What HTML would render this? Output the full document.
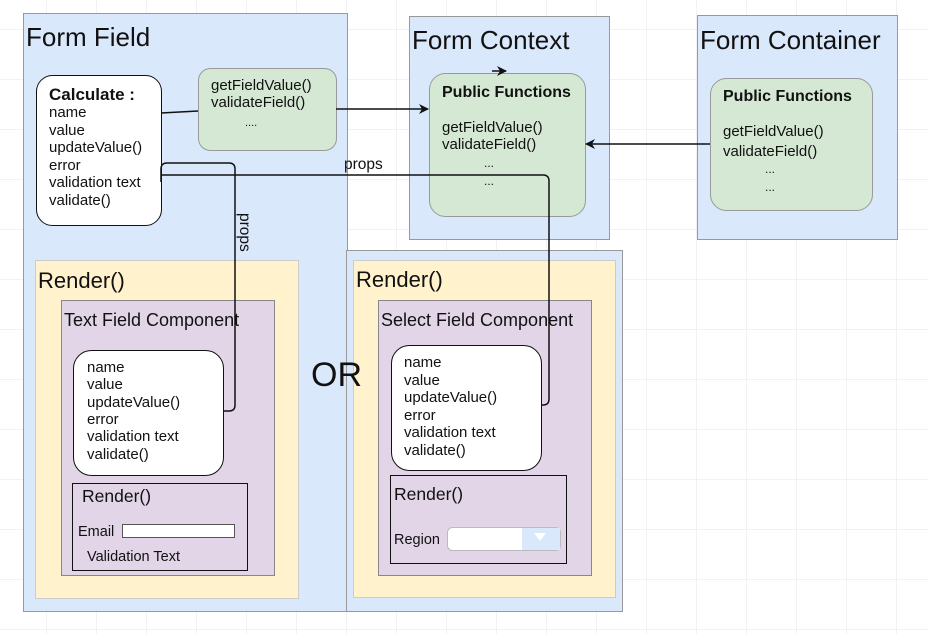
<!DOCTYPE html>
<html><head><meta charset="utf-8"><style>
html,body{margin:0;padding:0;background:#fff}
svg{display:block}
text{font-family:"Liberation Sans",Arial,sans-serif;fill:#111}
</style></head><body>
<svg width="928" height="634" viewBox="0 0 928 634" xmlns="http://www.w3.org/2000/svg">
<defs>
<pattern id="g" width="50" height="50" patternUnits="userSpaceOnUse" x="-3" y="-20">
<path d="M50 0V50M0 50H50" stroke="#e4e4ea" stroke-width="1" fill="none"/>
</pattern>
<marker id="a" markerWidth="10" markerHeight="10" refX="9" refY="5" orient="auto" markerUnits="userSpaceOnUse"><path d="M0 0L10 5L0 10L3 5Z" fill="#111"/></marker>
</defs>
<rect width="928" height="634" fill="url(#g)"/>
<rect x="23.5" y="13.5" width="324" height="598" fill="#dae8fc" stroke="#999"/>
<rect x="346.5" y="250.5" width="276" height="361" fill="#dae8fc" stroke="#999"/>
<text x="26" y="46" font-size="26">Form Field</text>
<rect x="409.5" y="16.5" width="200" height="223" fill="#dae8fc" stroke="#999"/>
<text x="412" y="49" font-size="26">Form Context</text>
<rect x="429.5" y="73.5" width="156" height="143" rx="16" fill="#d5e8d4" stroke="#999"/>
<text x="442" y="97" font-size="16" font-weight="bold">Public Functions</text>
<text x="442" y="132" font-size="15">getFieldValue()</text>
<text x="442" y="149" font-size="15">validateField()</text>
<text x="484" y="167" font-size="12">...</text>
<text x="484" y="185" font-size="12">...</text>
<rect x="697.5" y="15.5" width="200" height="224" fill="#dae8fc" stroke="#999"/>
<text x="700" y="49" font-size="26">Form Container</text>
<rect x="710.5" y="78.5" width="162" height="132" rx="16" fill="#d5e8d4" stroke="#999"/>
<text x="723" y="101" font-size="16" font-weight="bold">Public Functions</text>
<text x="723" y="136" font-size="15">getFieldValue()</text>
<text x="723" y="156" font-size="15">validateField()</text>
<text x="765" y="173" font-size="12">...</text>
<text x="765" y="191" font-size="12">...</text>
<rect x="36.5" y="75.5" width="125" height="150" rx="16" fill="#fff" stroke="#111"/>
<text x="49" y="100" font-size="17" font-weight="bold">Calculate :</text>
<g font-size="15"><text x="49" y="117">name</text><text x="49" y="135">value</text><text x="49" y="152">updateValue()</text><text x="49" y="170">error</text><text x="49" y="187">validation text</text><text x="49" y="205">validate()</text></g>
<rect x="198.5" y="68.5" width="138" height="82" rx="12" fill="#d5e8d4" stroke="#999"/>
<g font-size="15"><text x="211" y="90">getFieldValue()</text><text x="211" y="107">validateField()</text></g>
<text x="245" y="126" font-size="11">....</text>
<rect x="35.5" y="260.5" width="263" height="338" fill="#fff2cc" stroke="#ccc"/>
<text x="38" y="288" font-size="22">Render()</text>
<rect x="61.5" y="300.5" width="213" height="275" fill="#e1d5e7" stroke="#888"/>
<text x="64" y="326" font-size="18">Text Field Component</text>
<rect x="73.5" y="350.5" width="150" height="125" rx="18" fill="#fff" stroke="#111"/>
<g font-size="15"><text x="87" y="372">name</text><text x="87" y="389">value</text><text x="87" y="407">updateValue()</text><text x="87" y="424">error</text><text x="87" y="441">validation text</text><text x="87" y="459">validate()</text></g>
<rect x="72.5" y="483.5" width="175" height="87" fill="none" stroke="#111"/>
<text x="82" y="502" font-size="17.5">Render()</text>
<text x="78" y="536" font-size="14.5">Email</text>
<rect x="122.5" y="524.5" width="112" height="13" fill="#fff" stroke="#555"/>
<text x="87" y="561" font-size="14.5">Validation Text</text>
<rect x="353.5" y="260.5" width="262" height="337" fill="#fff2cc" stroke="#ccc"/>
<text x="356" y="287" font-size="22">Render()</text>
<rect x="378.5" y="300.5" width="213" height="275" fill="#e1d5e7" stroke="#888"/>
<text x="381" y="326" font-size="18">Select Field Component</text>
<rect x="391.5" y="345.5" width="150" height="125" rx="18" fill="#fff" stroke="#111"/>
<g font-size="15"><text x="404" y="367">name</text><text x="404" y="385">value</text><text x="404" y="402">updateValue()</text><text x="404" y="420">error</text><text x="404" y="437">validation text</text><text x="404" y="455">validate()</text></g>
<rect x="390.5" y="475.5" width="176" height="88" fill="none" stroke="#111"/>
<text x="394" y="500" font-size="17.5">Render()</text>
<text x="394" y="544" font-size="14.5">Region</text>
<rect x="447.5" y="527.5" width="113" height="23" rx="5" fill="#fff" stroke="#bbb"/>
<rect x="522" y="528" width="38" height="22" fill="#dae8fc"/>
<path d="M534 533L546 533L540 541Z" fill="#fff"/>
<text x="311" y="386" font-size="34">OR</text>
<g stroke="#111" stroke-width="1.5" fill="none">
<path d="M161 113L198 111"/>
<path d="M336 109L428 109" marker-end="url(#a)"/>
<path d="M710 144L586 144" marker-end="url(#a)"/>
<path d="M492 71L506 71" marker-end="url(#a)"/>
<path d="M161 175H543Q549 175 549 181V399Q549 405 543 405H541"/>
<path d="M161 182V169Q161 163 167 163H229Q235 163 235 169V405Q235 411 229 411H223"/>
</g>
<text x="344" y="169" font-size="15.5">props</text>
<text x="240" y="213" font-size="15.5" transform="rotate(90 240 213)">props</text>
</svg>
</body></html>
